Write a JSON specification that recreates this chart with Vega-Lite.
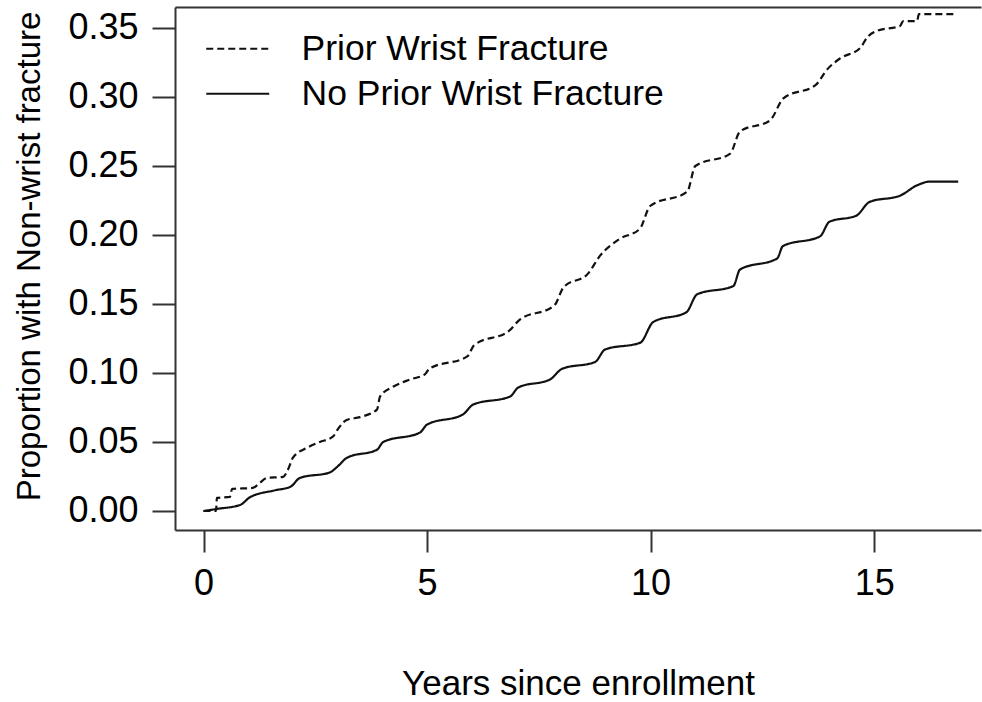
{
  "$schema": "https://vega.github.io/schema/vega-lite/v6.json",
  "width": 806,
  "height": 523,
  "autosize": "none",
  "padding": {"left": 175, "top": 7, "right": 1, "bottom": 172},
  "background": "white",
  "config": {
    "view": {"stroke": null},
    "font": "Liberation Sans",
    "axis": {
      "grid": false,
      "domainColor": "#333333",
      "domainWidth": 2,
      "tickColor": "#333333",
      "tickWidth": 2,
      "labelFont": "Liberation Sans",
      "labelFontSize": 36,
      "labelColor": "#000000",
      "titleFont": "Liberation Sans",
      "titleFontSize": 35,
      "titleFontWeight": "normal",
      "titleColor": "#000000"
    },
    "legend": {
      "orient": "none",
      "legendX": 45,
      "legendY": 24,
      "padding": 0,
      "labelFont": "Liberation Sans",
      "labelFontSize": 35.5,
      "labelColor": "#000000",
      "labelLimit": 600,
      "rowPadding": 8,
      "labelOffset": 46
    }
  },
  "datasets": {
    "curves": [
      {"group": "No Prior Wrist Fracture", "t": 0, "p": 0},
      {"group": "No Prior Wrist Fracture", "t": 0.3, "p": 0.0015},
      {"group": "No Prior Wrist Fracture", "t": 0.82, "p": 0.0044},
      {"group": "No Prior Wrist Fracture", "t": 1.04, "p": 0.010},
      {"group": "No Prior Wrist Fracture", "t": 1.6, "p": 0.015},
      {"group": "No Prior Wrist Fracture", "t": 1.94, "p": 0.0175},
      {"group": "No Prior Wrist Fracture", "t": 2.16, "p": 0.024},
      {"group": "No Prior Wrist Fracture", "t": 2.83, "p": 0.028},
      {"group": "No Prior Wrist Fracture", "t": 2.99, "p": 0.032},
      {"group": "No Prior Wrist Fracture", "t": 3.21, "p": 0.0386},
      {"group": "No Prior Wrist Fracture", "t": 3.88, "p": 0.0444},
      {"group": "No Prior Wrist Fracture", "t": 4.02, "p": 0.050},
      {"group": "No Prior Wrist Fracture", "t": 4.84, "p": 0.0568},
      {"group": "No Prior Wrist Fracture", "t": 5.0, "p": 0.0626},
      {"group": "No Prior Wrist Fracture", "t": 5.8, "p": 0.0699},
      {"group": "No Prior Wrist Fracture", "t": 6.03, "p": 0.0771},
      {"group": "No Prior Wrist Fracture", "t": 6.86, "p": 0.083},
      {"group": "No Prior Wrist Fracture", "t": 7.04, "p": 0.0895},
      {"group": "No Prior Wrist Fracture", "t": 7.75, "p": 0.0953},
      {"group": "No Prior Wrist Fracture", "t": 8.02, "p": 0.103},
      {"group": "No Prior Wrist Fracture", "t": 8.76, "p": 0.108},
      {"group": "No Prior Wrist Fracture", "t": 8.98, "p": 0.117},
      {"group": "No Prior Wrist Fracture", "t": 9.77, "p": 0.122},
      {"group": "No Prior Wrist Fracture", "t": 10.06, "p": 0.137},
      {"group": "No Prior Wrist Fracture", "t": 10.8, "p": 0.144},
      {"group": "No Prior Wrist Fracture", "t": 11.04, "p": 0.157},
      {"group": "No Prior Wrist Fracture", "t": 11.85, "p": 0.163},
      {"group": "No Prior Wrist Fracture", "t": 12.0, "p": 0.175},
      {"group": "No Prior Wrist Fracture", "t": 12.83, "p": 0.183},
      {"group": "No Prior Wrist Fracture", "t": 12.96, "p": 0.192},
      {"group": "No Prior Wrist Fracture", "t": 13.79, "p": 0.199},
      {"group": "No Prior Wrist Fracture", "t": 14.0, "p": 0.2096},
      {"group": "No Prior Wrist Fracture", "t": 14.6, "p": 0.214},
      {"group": "No Prior Wrist Fracture", "t": 14.9, "p": 0.224},
      {"group": "No Prior Wrist Fracture", "t": 15.58, "p": 0.2285},
      {"group": "No Prior Wrist Fracture", "t": 15.96, "p": 0.236},
      {"group": "No Prior Wrist Fracture", "t": 16.25, "p": 0.2387},
      {"group": "No Prior Wrist Fracture", "t": 16.88, "p": 0.2387},
      {"group": "Prior Wrist Fracture", "t": 0, "p": 0},
      {"group": "Prior Wrist Fracture", "t": 0.28, "p": 0.0},
      {"group": "Prior Wrist Fracture", "t": 0.3, "p": 0.0095},
      {"group": "Prior Wrist Fracture", "t": 0.59, "p": 0.0102},
      {"group": "Prior Wrist Fracture", "t": 0.64, "p": 0.016},
      {"group": "Prior Wrist Fracture", "t": 1.1, "p": 0.0167},
      {"group": "Prior Wrist Fracture", "t": 1.26, "p": 0.0204},
      {"group": "Prior Wrist Fracture", "t": 1.42, "p": 0.024},
      {"group": "Prior Wrist Fracture", "t": 1.78, "p": 0.0247},
      {"group": "Prior Wrist Fracture", "t": 1.89, "p": 0.030},
      {"group": "Prior Wrist Fracture", "t": 2.0, "p": 0.0386},
      {"group": "Prior Wrist Fracture", "t": 2.32, "p": 0.0459},
      {"group": "Prior Wrist Fracture", "t": 2.6, "p": 0.050},
      {"group": "Prior Wrist Fracture", "t": 2.9, "p": 0.054},
      {"group": "Prior Wrist Fracture", "t": 3.0, "p": 0.059},
      {"group": "Prior Wrist Fracture", "t": 3.2, "p": 0.066},
      {"group": "Prior Wrist Fracture", "t": 3.5, "p": 0.068},
      {"group": "Prior Wrist Fracture", "t": 3.88, "p": 0.0735},
      {"group": "Prior Wrist Fracture", "t": 3.95, "p": 0.083},
      {"group": "Prior Wrist Fracture", "t": 4.24, "p": 0.090},
      {"group": "Prior Wrist Fracture", "t": 4.62, "p": 0.0953},
      {"group": "Prior Wrist Fracture", "t": 4.95, "p": 0.099},
      {"group": "Prior Wrist Fracture", "t": 5.05, "p": 0.103},
      {"group": "Prior Wrist Fracture", "t": 5.9, "p": 0.112},
      {"group": "Prior Wrist Fracture", "t": 6.05, "p": 0.12},
      {"group": "Prior Wrist Fracture", "t": 6.85, "p": 0.131},
      {"group": "Prior Wrist Fracture", "t": 7.05, "p": 0.138},
      {"group": "Prior Wrist Fracture", "t": 7.85, "p": 0.149},
      {"group": "Prior Wrist Fracture", "t": 8.05, "p": 0.162},
      {"group": "Prior Wrist Fracture", "t": 8.6, "p": 0.172},
      {"group": "Prior Wrist Fracture", "t": 8.87, "p": 0.185},
      {"group": "Prior Wrist Fracture", "t": 9.3, "p": 0.197},
      {"group": "Prior Wrist Fracture", "t": 9.76, "p": 0.2045},
      {"group": "Prior Wrist Fracture", "t": 9.99, "p": 0.221},
      {"group": "Prior Wrist Fracture", "t": 10.82, "p": 0.2314},
      {"group": "Prior Wrist Fracture", "t": 11.0, "p": 0.250},
      {"group": "Prior Wrist Fracture", "t": 11.78, "p": 0.259},
      {"group": "Prior Wrist Fracture", "t": 12.0, "p": 0.275},
      {"group": "Prior Wrist Fracture", "t": 12.67, "p": 0.283},
      {"group": "Prior Wrist Fracture", "t": 12.97, "p": 0.299},
      {"group": "Prior Wrist Fracture", "t": 13.7, "p": 0.309},
      {"group": "Prior Wrist Fracture", "t": 13.95, "p": 0.32},
      {"group": "Prior Wrist Fracture", "t": 14.24, "p": 0.328},
      {"group": "Prior Wrist Fracture", "t": 14.69, "p": 0.3355},
      {"group": "Prior Wrist Fracture", "t": 14.84, "p": 0.343},
      {"group": "Prior Wrist Fracture", "t": 15.07, "p": 0.348},
      {"group": "Prior Wrist Fracture", "t": 15.58, "p": 0.3515},
      {"group": "Prior Wrist Fracture", "t": 15.65, "p": 0.355},
      {"group": "Prior Wrist Fracture", "t": 15.96, "p": 0.355},
      {"group": "Prior Wrist Fracture", "t": 16.0, "p": 0.360},
      {"group": "Prior Wrist Fracture", "t": 16.8, "p": 0.360}
    ]
  },
  "data": {"name": "curves"},
  "layer": [
    {
      "mark": {"type": "line", "color": "#111111", "strokeWidth": 2.2, "interpolate": "monotone"},
      "encoding": {
        "x": {
          "field": "t",
          "type": "quantitative",
          "scale": {"domain": [-0.6376, 17.39], "nice": false, "zero": false},
          "axis": {
            "orient": "bottom",
            "values": [0, 5, 10, 15],
            "tickSize": 22,
            "labelPadding": 14,
            "titlePadding": 65,
            "labelFlush": false,
            "title": "Years since enrollment"
          }
        },
        "y": {
          "field": "p",
          "type": "quantitative",
          "scale": {"domain": [-0.01377, 0.3652], "nice": false, "zero": false},
          "axis": {
            "values": [0, 0.05, 0.1, 0.15, 0.2, 0.25, 0.3, 0.35],
            "format": ".2f",
            "tickSize": 23,
            "labelPadding": 14,
            "titlePadding": 21,
            "titleFontSize": 33,
            "titleY": 249,
            "labelAngle": 0,
            "title": "Proportion with Non-wrist fracture"
          }
        },
        "strokeDash": {
          "field": "group",
          "type": "nominal",
          "scale": {
            "domain": ["Prior Wrist Fracture", "No Prior Wrist Fracture"],
            "range": [[7, 4], [1, 0]]
          },
          "legend": {
            "title": null,
            "symbolType": "M-2,0H2",
            "symbolSize": 992,
            "symbolStrokeWidth": 2,
            "symbolStrokeColor": "#111111",
            "symbolFillColor": "transparent"
          }
        }
      }
    },
    {
      "mark": {"type": "line", "opacity": 0},
      "encoding": {
        "x": {
          "field": "t",
          "type": "quantitative",
          "axis": {
            "orient": "top",
            "labels": false,
            "ticks": false,
            "title": null,
            "domain": true
          }
        },
        "y": {"field": "p", "type": "quantitative", "axis": null},
        "detail": {"field": "group"}
      }
    }
  ],
  "resolve": {"axis": {"x": "independent", "y": "independent"}}
}
